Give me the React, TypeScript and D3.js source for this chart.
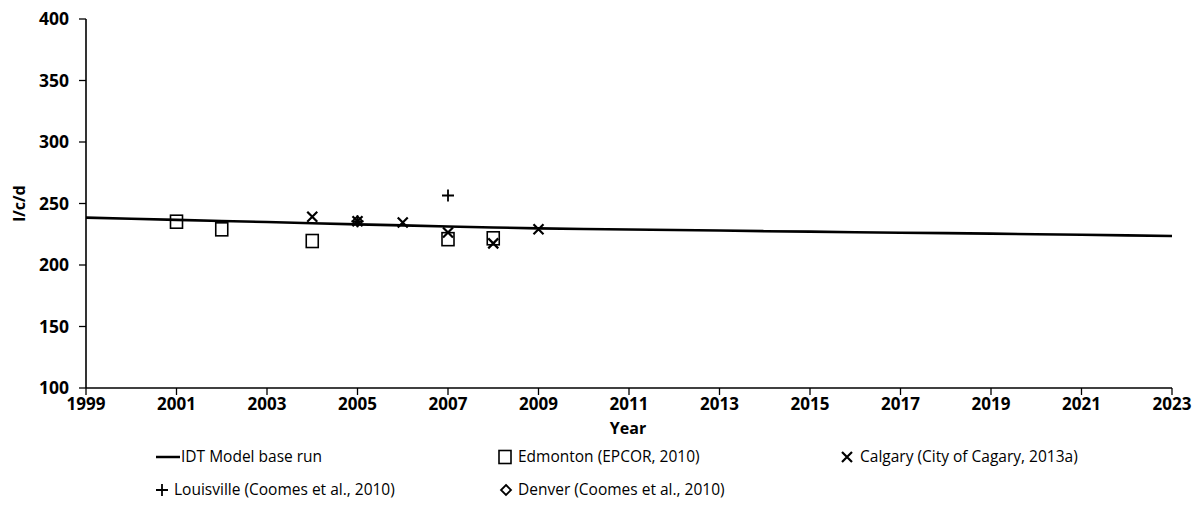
import React from "react";
import * as d3 from "d3";

const WIDTH = 1199;
const HEIGHT = 527;
const MARGIN = { top: 19, right: 27, bottom: 139, left: 86 };
const FONT = "'Open Sans', 'Noto Sans', sans-serif";

// model base run, yearly values (l/c/d)
const modelYears = [1999, 2000, 2001, 2002, 2003, 2004, 2005, 2006, 2007, 2008, 2009, 2010, 2011, 2012, 2013, 2014, 2015, 2016, 2017, 2018, 2019, 2020, 2021, 2022, 2023];
const modelValues = [238.5, 237.6, 236.7, 235.8, 234.9, 234, 233, 232.2, 231.3, 230.5, 229.8, 229.3, 228.9, 228.5, 228, 227.5, 227.1, 226.6, 226.2, 225.9, 225.5, 225, 224.6, 224.1, 223.6];

const edmontonYears = [2001, 2002, 2004, 2007, 2008];
const edmontonValues = [235.2, 229, 219.5, 221, 221.7];

const calgaryYears = [2004, 2005, 2006, 2007, 2008, 2009];
const calgaryValues = [239.3, 235.5, 234.5, 226.5, 217.6, 229];

const louisvilleYears = [2005, 2007];
const louisvilleValues = [235.5, 256.5];

const denverYears = [2005];
const denverValues = [235.5];

const xTicks = [1999, 2001, 2003, 2005, 2007, 2009, 2011, 2013, 2015, 2017, 2019, 2021, 2023];
const yTicks = [100, 150, 200, 250, 300, 350, 400];

const legendLabels = [
  "IDT Model base run",
  "Edmonton (EPCOR, 2010)",
  "Calgary (City of Cagary, 2013a)",
  "Louisville (Coomes et al., 2010)",
  "Denver (Coomes et al., 2010)",
];

type Kind = "line" | "square" | "cross" | "plus" | "diamond";

function Marker({ kind, x, y }: { kind: Kind; x: number; y: number }) {
  const s = 6;
  if (kind === "square") {
    return <rect x={x - 6} y={y - 6.5} width={12} height={13} fill="none" stroke="#000" strokeWidth={1.6} />;
  }
  if (kind === "cross") {
    return (
      <path d={`M${x - 5},${y - 5}L${x + 5},${y + 5}M${x - 5},${y + 5}L${x + 5},${y - 5}`} stroke="#000" strokeWidth={2.2} fill="none" />
    );
  }
  if (kind === "plus") {
    return <path d={`M${x - s},${y}L${x + s},${y}M${x},${y - s}L${x},${y + s}`} stroke="#000" strokeWidth={1.8} fill="none" />;
  }
  if (kind === "diamond") {
    return <path d={`M${x},${y - 5}L${x + 5},${y}L${x},${y + 5}L${x - 5},${y}Z`} stroke="#000" strokeWidth={1.8} fill="none" />;
  }
  return <line x1={x - 12} x2={x + 12} y1={y} y2={y} stroke="#000" strokeWidth={2.5} />;
}

export default function App() {
  const x = d3.scaleLinear().domain([1999, 2023]).range([MARGIN.left, WIDTH - MARGIN.right]);
  const y = d3.scaleLinear().domain([100, 400]).range([HEIGHT - MARGIN.bottom, MARGIN.top]);
  const x0 = MARGIN.left;
  const y0 = y(100);

  const line = d3
    .line<number>()
    .x((_, i) => x(modelYears[i]))
    .y((d) => y(d));

  const series: { kind: Kind; years: number[]; values: number[] }[] = [
    { kind: "square", years: edmontonYears, values: edmontonValues },
    { kind: "cross", years: calgaryYears, values: calgaryValues },
    { kind: "plus", years: louisvilleYears, values: louisvilleValues },
    { kind: "diamond", years: denverYears, values: denverValues },
  ];

  const legend: { kind: Kind; mx: number; tx: number; y: number }[] = [
    { kind: "line", mx: 168, tx: 181, y: 457 },
    { kind: "square", mx: 505, tx: 518, y: 457 },
    { kind: "cross", mx: 847, tx: 860, y: 457 },
    { kind: "plus", mx: 162, tx: 174, y: 490 },
    { kind: "diamond", mx: 506, tx: 518, y: 490 },
  ];

  return (
    <svg width={WIDTH} height={HEIGHT} style={{ position: "absolute", left: 0, top: 0 }}>
      <rect width={WIDTH} height={HEIGHT} fill="#fff" />
      {/* axes */}
      <line x1={x0} x2={x0} y1={y(400)} y2={y0} stroke="#000" strokeWidth={1.6} />
      <line x1={x0} x2={x(2023)} y1={y0} y2={y0} stroke="#000" strokeWidth={1.6} />
      {yTicks.map((t) => (
        <g key={t}>
          <line x1={x0 - 7} x2={x0} y1={y(t)} y2={y(t)} stroke="#000" strokeWidth={1.3} />
          <text x={x0 - 17} y={y(t)} dy="0.35em" textAnchor="end" fontFamily={FONT} fontWeight="bold" fontSize={17.5}>
            {t}
          </text>
        </g>
      ))}
      {xTicks.map((t) => (
        <g key={t}>
          <line x1={x(t)} x2={x(t)} y1={y0} y2={y0 + 7} stroke="#000" strokeWidth={1.3} />
          <text x={x(t)} y={y0 + 16} dy="0.35em" textAnchor="middle" fontFamily={FONT} fontWeight="bold" fontSize={17}>
            {t}
          </text>
        </g>
      ))}
      <text x={628} y={428} dy="0.35em" textAnchor="middle" fontFamily={FONT} fontWeight="bold" fontSize={16}>
        Year
      </text>
      <text
        transform={`translate(19,${(y(400) + y0) / 2}) rotate(-90)`}
        dy="0.35em"
        textAnchor="middle"
        fontFamily={FONT}
        fontWeight="bold"
        fontSize={16}
      >
        l/c/d
      </text>
      {/* model run */}
      <path d={line(modelValues) ?? ""} fill="none" stroke="#000" strokeWidth={2.6} />
      {/* observations */}
      {series.map((s) =>
        s.values.map((v, i) => <Marker key={s.kind + i} kind={s.kind} x={x(s.years[i])} y={y(v)} />)
      )}
      {/* legend */}
      {legend.map((l, i) => (
        <g key={i}>
          <Marker kind={l.kind} x={l.mx} y={l.y} />
          <text x={l.tx} y={l.y} dy="0.35em" fontFamily={FONT} fontSize={15.5}>
            {legendLabels[i]}
          </text>
        </g>
      ))}
    </svg>
  );
}
